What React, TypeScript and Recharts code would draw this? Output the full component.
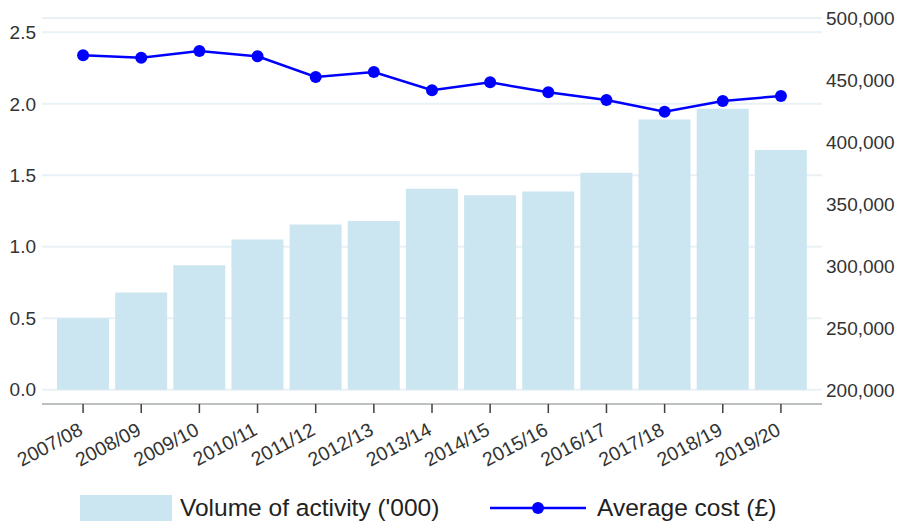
import React from 'react';
import { ComposedChart, Bar, Line, XAxis, YAxis, CartesianGrid, Legend } from 'recharts';

const years = ['2007/08', '2008/09', '2009/10', '2010/11', '2011/12', '2012/13', '2013/14', '2014/15', '2015/16', '2016/17', '2017/18', '2018/19', '2019/20'];
const volume = [0.5, 0.68, 0.87, 1.05, 1.155, 1.18, 1.405, 1.36, 1.386, 1.517, 1.89, 1.966, 1.676];
const avgCost = [470000, 468000, 473400, 469100, 452400, 456500, 441700, 448100, 440100, 433900, 424400, 433100, 437100];
const leftTicks = [0, 0.5, 1.0, 1.5, 2.0, 2.5];
const rightTicks = [200000, 250000, 300000, 350000, 400000, 450000, 500000];

const data = years.map((y, i) => ({ year: y, volume: volume[i], cost: avgCost[i] }));

const FONT = 'Liberation Sans, Arial, sans-serif';
const BAR_COLOR = '#cce6f1';
const LINE_COLOR = '#0000ff';

const XTick = (props: any) => {
  const { x, y, payload } = props;
  return (
    <g transform={`translate(${x + 1},${y + 19})`}>
      <text x={0} y={0} textAnchor="end" transform="rotate(-28)" fill="#333" fontSize={19.5} fontFamily={FONT}>
        {payload.value}
      </text>
    </g>
  );
};

const LegendContent = () => (
  <div style={{ position: 'relative', width: 899, height: 34, fontFamily: FONT, fontSize: 24.5, color: '#222' }}>
    <div style={{ position: 'absolute', left: 80, top: 4, width: 92, height: 26, background: BAR_COLOR }} />
    <div style={{ position: 'absolute', left: 180, top: 0, lineHeight: '34px', whiteSpace: 'nowrap' }}>Volume of activity ('000)</div>
    <svg style={{ position: 'absolute', left: 490, top: 0 }} width={96} height={34}>
      <line x1={0} y1={17} x2={96} y2={17} stroke={LINE_COLOR} strokeWidth={2.5} />
      <circle cx={48} cy={17} r={6} fill={LINE_COLOR} />
    </svg>
    <div style={{ position: 'absolute', left: 597, top: 0, lineHeight: '34px', whiteSpace: 'nowrap' }}>Average cost (£)</div>
  </div>
);

export default function App() {
  return (
    <div style={{ position: 'absolute', left: 0, top: 0, width: 899, height: 524, background: '#fff' }}>
      <ComposedChart width={899} height={524} data={data} margin={{ top: 18, right: 0, bottom: 50, left: 0 }} barCategoryGap={3}>
        <CartesianGrid yAxisId="left" vertical={false} stroke="#e8f1f5" strokeWidth={2} />
        <XAxis
          dataKey="year"
          height={70}
          padding={{ left: 12, right: 12 }}
          interval={0}
          stroke="#b0b0b0"
          axisLine={{ stroke: '#b0b0b0', strokeWidth: 1.5 }}
          tickLine={{ stroke: '#404040', strokeWidth: 1.5 }}
          tickSize={9}
          tickMargin={2}
          tick={<XTick />}
        />
        <YAxis
          yAxisId="left"
          orientation="left"
          width={42}
          domain={[-0.1, 2.6]}
          ticks={leftTicks}
          allowDataOverflow
          axisLine={false}
          tickLine={false}
          tickSize={4}
          tickMargin={2}
          tickFormatter={(v: number) => v.toFixed(1)}
          tick={{ fill: '#333', fontSize: 19, fontFamily: FONT }}
        />
        <YAxis
          yAxisId="right"
          orientation="right"
          width={77}
          domain={[188700, 500000]}
          ticks={rightTicks}
          allowDataOverflow
          axisLine={false}
          tickLine={false}
          tickSize={2}
          tickMargin={2}
          tickFormatter={(v: number) => v.toLocaleString('en-GB')}
          tick={{ fill: '#333', fontSize: 19, fontFamily: FONT, textAnchor: 'start' }}
        />
        <Bar yAxisId="left" dataKey="volume" name="Volume of activity ('000)" fill={BAR_COLOR} isAnimationActive={false} />
        <Line
          yAxisId="right"
          dataKey="cost"
          name="Average cost (£)"
          stroke={LINE_COLOR}
          strokeWidth={2.5}
          dot={{ r: 6, fill: LINE_COLOR, stroke: 'none' }}
          activeDot={false}
          isAnimationActive={false}
        />
        <Legend
          layout="horizontal"
          align="center"
          verticalAlign="middle"
          content={<LegendContent />}
          wrapperStyle={{ left: 0, top: 491, width: 899, height: 34 }}
        />
      </ComposedChart>
    </div>
  );
}
